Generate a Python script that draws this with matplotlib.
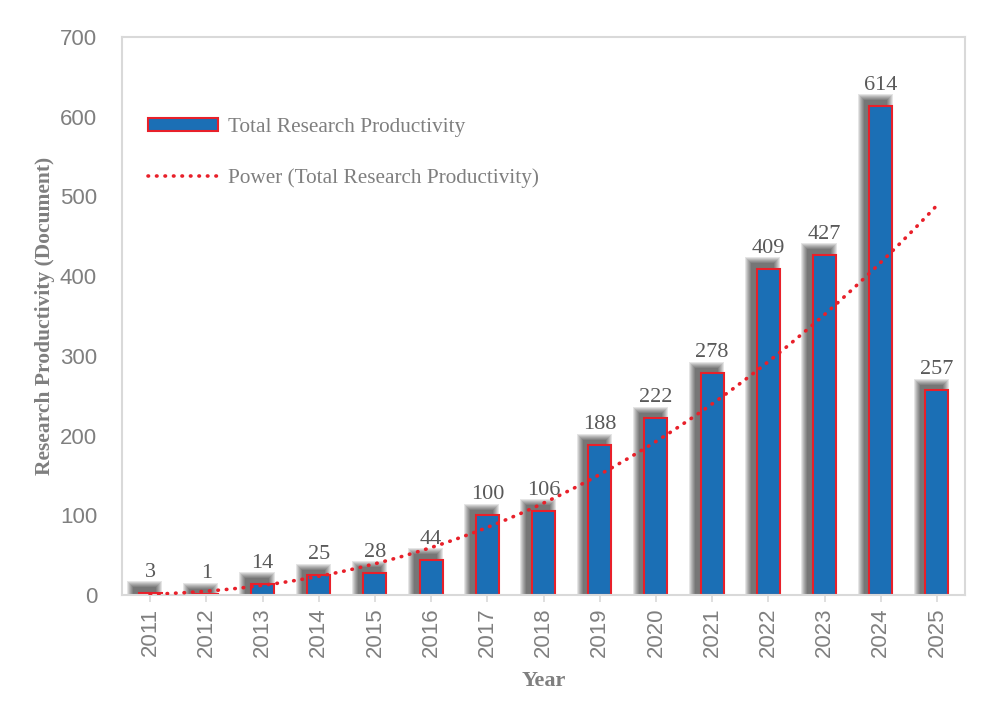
import numpy as np
import matplotlib
matplotlib.use("Agg")
import matplotlib.pyplot as plt

years = ["2011", "2012", "2013", "2014", "2015", "2016", "2017", "2018",
         "2019", "2020", "2021", "2022", "2023", "2024", "2025"]
docs = [3, 1, 14, 25, 28, 44, 100, 106, 188, 222, 278, 409, 427, 614, 257]
yticks = [0, 100, 200, 300, 400, 500, 600, 700]

bar_label = "Total Research Productivity"
trend_label = "Power (Total Research Productivity)"
xlabel = "Year"
ylabel = "Research Productivity (Document)"

BLUE = "#1B6FB5"
RED = "#E8202A"
GRAY = "#7F7F7F"
DGRAY = "#595959"
SPINE = "#D9D9D9"
SERIF = ["Liberation Serif", "DejaVu Serif"]
SANS = ["Liberation Sans", "DejaVu Sans"]

fig = plt.figure(figsize=(10, 7.2), dpi=100)
ax = fig.add_axes([0.122, 0.1736, 0.843, 0.775])

x = np.arange(len(years))
vals = np.array(docs, dtype=float)
w = 0.41

# pixel -> data conversion for soft shadow
px_x = 15.0 / 843.0
px_y = 700.0 / 558.0
off = 5.5
for e in np.arange(6, -0.5, -1.0):
    ax.bar(x - off * px_x, vals + (off + e) * px_y, width=w + 2 * e * px_x,
           color="black", alpha=0.10, linewidth=0, zorder=1)

bars = ax.bar(x, vals, width=w, color=BLUE, edgecolor=RED, linewidth=1.5,
              zorder=2, label=bar_label)

# Power trendline (least squares in log-log space, as in Excel)
xi = x + 1.0
b, lna = np.polyfit(np.log(xi), np.log(vals), 1)
xs = np.linspace(1, len(years), 300)
ys = np.exp(lna) * xs ** b
line, = ax.plot(xs - 1, ys, color=RED, linewidth=2.6,
                linestyle=(0, (0.15, 2.2)), dash_capstyle="round", zorder=3,
                label=trend_label)

for xv, v in zip(x, docs):
    ax.annotate(str(v), (xv, v), xytext=(0, 11.5), textcoords="offset points",
                ha="center", va="baseline", fontsize=16, color=DGRAY,
                family=SERIF)

ax.set_xlim(-0.5, len(years) - 0.5)
ax.set_ylim(0, 700)
ax.set_yticks(yticks)
ax.set_yticklabels([str(t) for t in yticks], family=SANS, fontsize=16,
                   color=GRAY)
ax.set_xticks(x)
ax.set_xticklabels(years, rotation=90, family=SANS, fontsize=16, color=GRAY)
ax.tick_params(axis="y", length=0, pad=18)
ax.tick_params(axis="x", length=5, color=SPINE, width=1.2, pad=4)
for s in ax.spines.values():
    s.set_color(SPINE)
    s.set_linewidth(1.5)

ax.set_xlabel(xlabel, family=SERIF, fontsize=16, fontweight="bold",
              color=GRAY)
ax.set_ylabel(ylabel, family=SERIF, fontsize=15.5, fontweight="bold",
              color=GRAY)
ax.xaxis.set_label_coords(0.5, -0.154)
ax.yaxis.set_label_coords(-0.0913, 0.5)
ax.xaxis.label.set_va("center")
ax.yaxis.label.set_va("center")

leg = ax.legend(handles=[bars, line], loc="upper left",
                bbox_to_anchor=(0.148, 0.836),
                bbox_transform=fig.transFigure, frameon=False,
                prop={"family": SERIF, "size": 15.3}, handlelength=3.3,
                handleheight=0.55, handletextpad=0.45, labelspacing=1.45,
                borderpad=0, borderaxespad=0)
for t in leg.get_texts():
    t.set_color(GRAY)

fig.savefig("out.png", dpi=100)
